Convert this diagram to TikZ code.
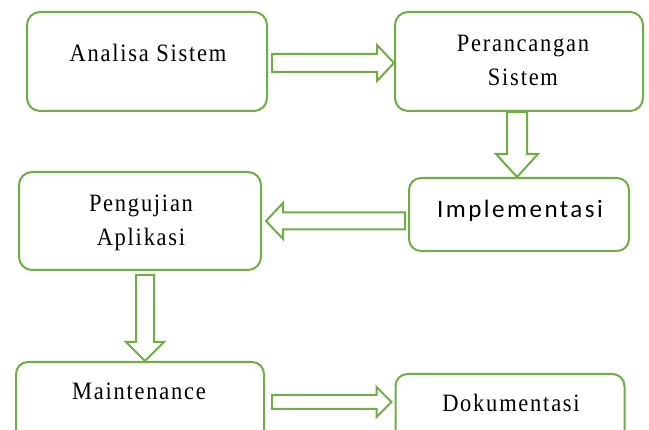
\documentclass[tikz,border=0pt]{standalone}
\usepackage{fontspec}
\setmainfont{Liberation Serif}[LetterSpace=7, FakeStretch=0.9]
\newfontfamily\implfont{Carlito}[LetterSpace=10]
\usetikzlibrary{calc}
\definecolor{grn}{HTML}{70AD47}
\tikzset{
  box/.style={draw=grn, line width=2pt, rounded corners=13pt, rectangle, inner sep=0pt, fill=white},
  lbl/.style={anchor=base, align=center, inner sep=0pt, font=\fontsize{25}{34}\selectfont},
  blk/.style={draw=grn, line width=2pt, line join=miter, fill=white},
}
\newcommand\blockarrow[5]{%
  \coordinate (hb) at ($(#2)!#5!(#1)$);
  \draw[blk] ($(#1)!#3!90:(#2)$) -- ($(hb)!#3!90:(#2)$) -- ($(hb)!#4!90:(#2)$) -- (#2)
    -- ($(hb)!#4!-90:(#2)$) -- ($(hb)!#3!-90:(#2)$) -- ($(#1)!#3!-90:(#2)$) -- cycle;}
\begin{document}
\begin{tikzpicture}[x=1pt, y=-1pt]
\useasboundingbox (0,0) rectangle (649,430);
\clip (0,0) rectangle (649,430);
% boxes
\node[box, minimum width=240pt, minimum height=99pt] (a) at (147,61.5) {};
\node[box, minimum width=248pt, minimum height=99pt] (b) at (519,61.5) {};
\node[box, minimum width=220pt, minimum height=73pt, rounded corners=12pt] (c) at (519,214.5) {};
\node[box, minimum width=242pt, minimum height=98pt] (d) at (140,221) {};
\node[box, minimum width=248pt, minimum height=100pt, rounded corners=12pt] (e) at (140,412) {};
\node[box, minimum width=229pt, minimum height=100pt, rounded corners=12pt] (f) at (510,424) {};
% texts (anchor=base is the baseline of the last line)
\node[lbl] (ta) at (148,62) {Analisa Sistem};
\node[lbl] (tb) at (523,86) {Perancangan\\Sistem};
\node[lbl, font=\implfont\fontsize{25}{30}\selectfont] (tc) at (520,218) {Implementasi};
\node[lbl] (td) at (141,246) {Pengujian\\Aplikasi};
\node[lbl] (te) at (139,400) {Maintenance};
\node[lbl] (tf) at (511,412) {Dokumentasi};
% arrows
\coordinate (ab0) at ($(a.east)+(4,1.5)$);
\coordinate (ab1) at (b.west |- ab0);
\blockarrow{ab0}{ab1}{9pt}{18pt}{17pt}
\coordinate (bc0) at ($(b.south)+(-2,0)$);
\coordinate (bc1) at (c.north -| bc0);
\blockarrow{bc0}{bc1}{10pt}{21pt}{23pt}
\coordinate (cd0) at ($(c.west)+(-3,6.5)$);
\coordinate (cd1) at ($(d.east |- cd0)+(4,0)$);
\blockarrow{cd0}{cd1}{8.5pt}{18pt}{17pt}
\coordinate (de0) at ($(d.south)+(5,4)$);
\coordinate (de1) at (e.north -| de0);
\blockarrow{de0}{de1}{9pt}{19pt}{19pt}
\coordinate (ef0) at ($(e.east)+(7,-10)$);
\coordinate (ef1) at ($(f.west |- ef0)+(-3,0)$);
\blockarrow{ef0}{ef1}{7pt}{15pt}{15pt}
\end{tikzpicture}
\end{document}
